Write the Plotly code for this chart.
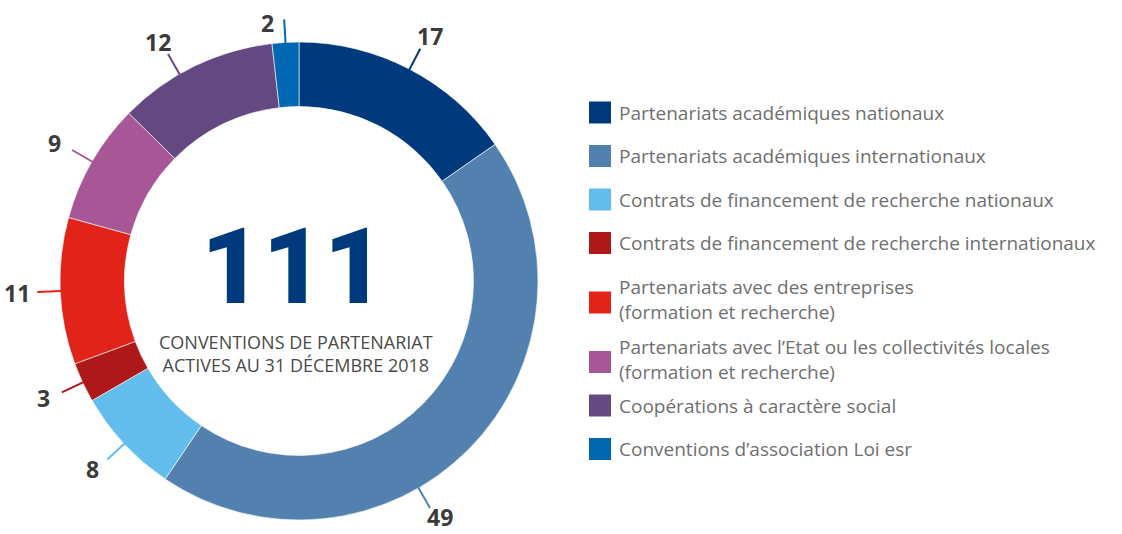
import math
import plotly.graph_objects as go

# ---- data ----
categories = [
    "Partenariats académiques nationaux",
    "Partenariats académiques internationaux",
    "Contrats de financement de recherche nationaux",
    "Contrats de financement de recherche internationaux",
    "Partenariats avec des entreprises\n(formation et recherche)",
    "Partenariats avec l’Etat ou les collectivités locales\n(formation et recherche)",
    "Coopérations à caractère social",
    "Conventions d’association Loi esr",
]
values = [17, 49, 8, 3, 11, 9, 12, 2]
colors = ["#003A7D", "#5281AF", "#62BDEC", "#AE1818",
          "#E2231A", "#A75795", "#644882", "#0068B3"]
subtitle = ["CONVENTIONS DE PARTENARIAT", "ACTIVES AU 31 DÉCEMBRE 2018"]

# ---- layout constants (pixels) ----
W, H = 1122, 534
CX, CY, R_OUT = 299, 281, 239
HOLE = 0.73
R_LINE0, R_LINE1 = 238, 262
LEADER_ANGLE_OVERRIDE = {1: 150, 6: 330}  # degrees clockwise from top
FONT = "Open Sans, Liberation Sans, sans-serif"


def px(x):
    return x / W


def py(y):
    return 1 - y / H


fig = go.Figure()
fig.add_trace(go.Pie(
    values=values,
    labels=[c.replace("\n", " ") for c in categories],
    sort=False,
    direction="clockwise",
    rotation=0,
    hole=HOLE,
    marker=dict(colors=colors, line=dict(color="white", width=0.6)),
    textinfo="none",
    hoverinfo="label+value",
    showlegend=False,
    domain=dict(x=[px(CX - R_OUT), px(CX + R_OUT)],
                y=[py(CY + R_OUT), py(CY - R_OUT)]),
))

shapes = []
annotations = []

# leader lines and value labels, placed from the slice angles
total = sum(values)
cum = 0
for i, (v, col) in enumerate(zip(values, colors)):
    mid = (cum + v / 2) / total * 2 * math.pi
    cum += v
    if i in LEADER_ANGLE_OVERRIDE:
        mid = math.radians(LEADER_ANGLE_OVERRIDE[i])
    dx, dy = math.sin(mid), -math.cos(mid)
    x0, y0 = CX + dx * R_LINE0, CY + dy * R_LINE0
    x1, y1 = CX + dx * R_LINE1, CY + dy * R_LINE1
    shapes.append(dict(type="line", xref="paper", yref="paper",
                       x0=px(x0), y0=py(y0), x1=px(x1), y1=py(y1),
                       line=dict(color=col, width=2)))
    if abs(dx) < 0.15:
        lx, ly, xa = x1 - 8, y1 + 4, "right"
    else:
        lx, ly, xa = x1 + dx * 20, min(y1 + dy * 14, H - 17), "center"
    annotations.append(dict(x=px(lx), y=py(ly), xref="paper", yref="paper",
                            text=f"<b>{v}</b>", showarrow=False,
                            xanchor=xa, yanchor="middle",
                            font=dict(family=FONT, size=23, color="#3b3b3b")))

# center total and subtitle
annotations.append(dict(x=px(293), y=py(267), xref="paper", yref="paper",
                        text=str(total), showarrow=False,
                        xanchor="center", yanchor="middle",
                        font=dict(family="Roboto, Liberation Sans, sans-serif",
                                  size=106, weight=900, color="#003A7D")))
annotations.append(dict(x=px(296), y=py(353), xref="paper", yref="paper",
                        text="<br>".join(subtitle), showarrow=False,
                        xanchor="center", yanchor="middle",
                        font=dict(family=FONT, size=18, color="#4a4a4a")))

# legend (custom squares + text)
yc = 112.5
for i, (name, col) in enumerate(zip(categories, colors)):
    nlines = name.count("\n") + 1
    if i > 0:
        yc += 43.5 + 16 * (nlines - 1)
    shapes.append(dict(type="rect", xref="paper", yref="paper",
                       x0=px(589), x1=px(611), y0=py(yc + 11), y1=py(yc - 11),
                       fillcolor=col, line=dict(width=0)))
    annotations.append(dict(x=px(617), y=py(yc - 3 * (nlines - 1)), xref="paper", yref="paper",
                            text=name.replace("\n", "<br>"), showarrow=False,
                            xanchor="left", yanchor="middle", align="left",
                            font=dict(family=FONT, size=19, color="#6f6f6f")))

fig.update_layout(
    width=W, height=H,
    margin=dict(l=0, r=0, t=0, b=0),
    paper_bgcolor="white", plot_bgcolor="white",
    shapes=shapes, annotations=annotations,
)

fig.write_html("out.html", config={"displayModeBar": False},
               post_script="document.body.style.margin='0';")
